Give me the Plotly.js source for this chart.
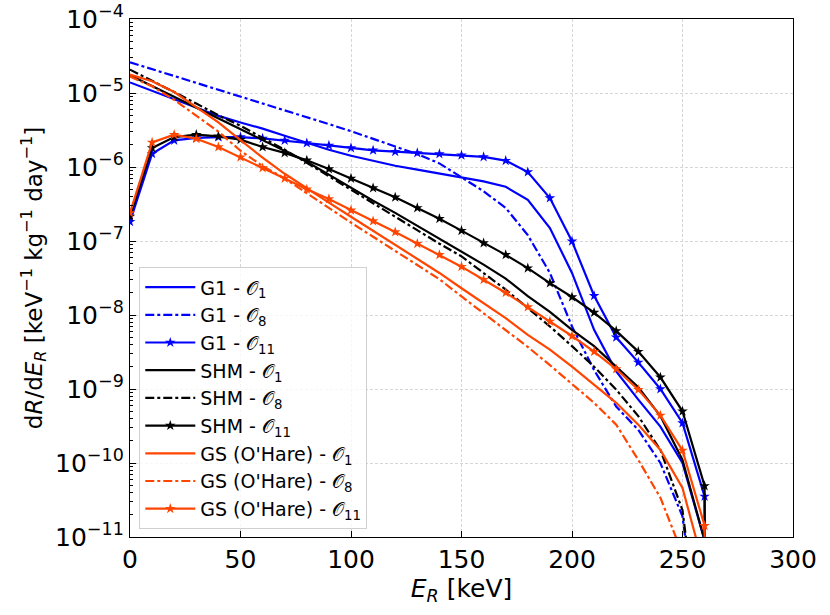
<!DOCTYPE html>
<html>
<head>
<meta charset="utf-8">
<script src="https://cdn.plot.ly/plotly-3.0.1.min.js"></script>
<style>
  body { margin: 0; background: #fff; }
  #plot { width: 830px; height: 615px; }
</style>
</head>
<body>
<div id="plot"></div>
<script>
// recoil energy grid [keV]; last point is where every rate has dropped to ~0
const energy = [0, 10, 20, 30, 40, 50, 60, 70, 80, 90, 100, 110, 120, 130, 140,
    150, 160, 170, 180, 190, 200, 210, 220, 230, 240, 250, 260, 261];

// G1 halo
const g1O1 = [1.39e-5, 1.07e-5, 8.1e-6, 6.3e-6, 4.9e-6, 4.0e-6, 3.3e-6, 2.65e-6, 2.13e-6,
    1.71e-6, 1.42e-6, 1.22e-6, 1.04e-6, 9.2e-7, 8.1e-7, 7.2e-7, 6.4e-7, 5.4e-7, 3.6e-7,
    1.5e-7, 3.7e-8, 6.3e-9, 1.73e-9, 7.2e-10, 3.1e-10, 1.0e-10, 9e-12, 1e-20];
const g1O8 = [2.6e-5, 2.1e-5, 1.7e-5, 1.38e-5, 1.11e-5, 9.0e-6, 7.3e-6, 5.9e-6, 4.8e-6,
    3.8e-6, 3.05e-6, 2.4e-6, 1.9e-6, 1.49e-6, 1.12e-6, 7.3e-7, 4.7e-7, 2.8e-7, 1.2e-7,
    3.7e-8, 7.0e-9, 1.8e-9, 5.8e-10, 2.8e-10, 1.0e-10, 1.9e-11, 1e-13, 1e-20];
const g1O11 = [1.82e-7, 1.51e-6, 2.29e-6, 2.47e-6, 2.54e-6, 2.54e-6, 2.43e-6, 2.29e-6, 2.11e-6,
    1.96e-6, 1.81e-6, 1.68e-6, 1.61e-6, 1.55e-6, 1.50e-6, 1.44e-6, 1.37e-6, 1.22e-6, 8.55e-7,
    3.81e-7, 9.9e-8, 1.82e-8, 5.0e-9, 2.29e-9, 1.0e-9, 3.47e-10, 3.54e-11, 1e-20];

// standard halo model
const shmO1 = [1.74e-5, 1.24e-5, 8.9e-6, 6.4e-6, 4.5e-6, 3.2e-6, 2.3e-6, 1.66e-6, 1.18e-6,
    7.9e-7, 5.2e-7, 3.5e-7, 2.4e-7, 1.6e-7, 1.07e-7, 7.2e-8, 4.8e-8, 3.1e-8, 1.8e-8,
    1.1e-8, 6.3e-9, 3.8e-9, 2.0e-9, 1.06e-9, 4.3e-10, 1.1e-10, 9e-12, 1e-20];
const shmO8 = [2.07e-5, 1.47e-5, 1.03e-5, 7.2e-6, 5.0e-6, 3.6e-6, 2.5e-6, 1.71e-6, 1.14e-6,
    7.5e-7, 4.9e-7, 3.2e-7, 2.1e-7, 1.4e-7, 9.2e-8, 6.2e-8, 3.7e-8, 2.2e-8, 1.24e-8,
    7.0e-9, 3.8e-9, 2.0e-9, 9.8e-10, 4.3e-10, 1.5e-10, 2.3e-11, 1e-13, 1e-20];
const shmO11 = [2.15e-7, 1.81e-6, 2.54e-6, 2.73e-6, 2.6e-6, 2.34e-6, 1.86e-6, 1.55e-6, 1.23e-6,
    9.4e-7, 7.0e-7, 5.2e-7, 3.9e-7, 2.8e-7, 2.0e-7, 1.38e-7, 9.4e-8, 6.5e-8, 4.3e-8,
    2.7e-8, 1.75e-8, 1.08e-8, 6.1e-9, 3.2e-9, 1.44e-9, 5.0e-10, 4.9e-11, 1e-20];

// Gaia sausage (O'Hare)
const gsO1 = [1.77e-5, 1.44e-5, 1.03e-5, 6.5e-6, 4.0e-6, 2.3e-6, 1.34e-6, 8.1e-7, 5.1e-7,
    3.3e-7, 2.13e-7, 1.38e-7, 8.9e-8, 5.8e-8, 3.7e-8, 2.3e-8, 1.45e-8, 9.1e-9, 5.4e-9,
    3.4e-9, 2.0e-9, 1.14e-9, 6.5e-10, 3.3e-10, 1.5e-10, 4.6e-11, 3.6e-12, 1e-20];
const gsO8 = [1.67e-5, 1.23e-5, 8.1e-6, 5.0e-6, 3.0e-6, 1.66e-6, 1.03e-6, 7.0e-7, 4.4e-7,
    2.8e-7, 1.77e-7, 1.14e-7, 7.4e-8, 4.8e-8, 3.05e-8, 1.78e-8, 1.06e-8, 6.3e-9, 3.7e-9,
    2.1e-9, 1.18e-9, 6.5e-10, 3.3e-10, 1.1e-10, 3.4e-11, 5.9e-12, 1e-13, 1e-20];
const gsO11 = [2.4e-7, 2.15e-6, 2.73e-6, 2.41e-6, 1.86e-6, 1.36e-6, 9.7e-7, 7.0e-7, 5.0e-7,
    3.7e-7, 2.6e-7, 1.86e-7, 1.32e-7, 9.2e-8, 6.5e-8, 4.5e-8, 3.0e-8, 2.0e-8, 1.28e-8,
    8.2e-9, 5.2e-9, 3.2e-9, 1.86e-9, 9.8e-10, 4.4e-10, 1.48e-10, 1.42e-11, 1e-20];

const yTickVals = [1e-11, 1e-10, 1e-9, 1e-8, 1e-7, 1e-6, 1e-5, 1e-4];
const yTickText = ['10<sup>−11</sup>', '10<sup>−10</sup>', '10<sup>−9</sup>', '10<sup>−8</sup>',
    '10<sup>−7</sup>', '10<sup>−6</sup>', '10<sup>−5</sup>', '10<sup>−4</sup>'];

// minor ticks 2..9 in every decade
const yMinor = [];
for (let e = -11; e < -4; e++) {
    for (let m = 2; m <= 9; m++) yMinor.push(m * Math.pow(10, e));
}

const BLUE = '#0000ff';
const BLACK = '#000000';
const ORANGE = '#ff4500';
const OP = '𝒪';

function curve(y, name, color, dash, stars) {
    const t = {
        x: energy,
        y: y,
        name: name,
        type: 'scatter',
        mode: stars ? 'lines+markers' : 'lines',
        line: { color: color, width: 2.2, dash: dash },
    };
    if (stars) {
        t.marker = { symbol: 'star', size: 8, color: color };
    }
    return t;
}

const traces = [
    curve(g1O1, 'G1 - ' + OP + '<sub>1</sub>', BLUE, 'solid', false),
    curve(g1O8, 'G1 - ' + OP + '<sub>8</sub>', BLUE, 'dashdot', false),
    curve(g1O11, 'G1 - ' + OP + '<sub>11</sub>', BLUE, 'solid', true),
    curve(shmO1, 'SHM - ' + OP + '<sub>1</sub>', BLACK, 'solid', false),
    curve(shmO8, 'SHM - ' + OP + '<sub>8</sub>', BLACK, 'dashdot', false),
    curve(shmO11, 'SHM - ' + OP + '<sub>11</sub>', BLACK, 'solid', true),
    curve(gsO1, "GS (O'Hare) - " + OP + '<sub>1</sub>', ORANGE, 'solid', false),
    curve(gsO8, "GS (O'Hare) - " + OP + '<sub>8</sub>', ORANGE, 'dashdot', false),
    curve(gsO11, "GS (O'Hare) - " + OP + '<sub>11</sub>', ORANGE, 'solid', true),
];

const gridStyle = {
    showgrid: true,
    gridcolor: '#c4c4c4',
    griddash: '3px,2px',
    gridwidth: 0.7,
};

const layout = {
    width: 830,
    height: 615,
    margin: { l: 130, r: 37, t: 19, b: 78 },
    paper_bgcolor: '#ffffff',
    plot_bgcolor: '#ffffff',
    font: { family: '"DejaVu Sans", sans-serif', color: '#000', size: 22 },
    showlegend: true,
    legend: {
        x: 0.014,
        y: 0.015,
        xanchor: 'left',
        yanchor: 'bottom',
        bgcolor: 'rgba(255,255,255,0.8)',
        bordercolor: '#d0d0d0',
        borderwidth: 1,
        itemwidth: 50,
        font: { size: 19 },
    },
    xaxis: Object.assign({
        range: [0, 300],
        dtick: 50,
        ticks: 'inside',
        ticklen: 6,
        tickcolor: '#000',
        showline: true,
        linecolor: '#000',
        linewidth: 1.2,
        mirror: true,
        zeroline: false,
        tickfont: { size: 25 },
        title: { text: '<i>E<sub>R</sub></i> [keV]', font: { size: 25 }, standoff: 2 },
    }, gridStyle),
    yaxis: Object.assign({
        type: 'log',
        range: [-11, -4],
        tickvals: yTickVals,
        ticktext: yTickText,
        ticks: 'inside',
        ticklen: 6,
        tickcolor: '#000',
        minor: { tickmode: 'array', tickvals: yMinor, ticks: 'inside', ticklen: 3, tickcolor: '#000', showgrid: false },
        showline: true,
        linecolor: '#000',
        linewidth: 1.2,
        mirror: true,
        zeroline: false,
        tickfont: { size: 25 },
        title: {
            text: 'd<i>R</i>/d<i>E<sub>R</sub></i> [keV<sup>−1</sup> kg<sup>−1</sup> day<sup>−1</sup>]',
            font: { size: 23 },
            standoff: 6,
        },
    }, gridStyle),
};

Plotly.newPlot('plot', traces, layout, { staticPlot: true, displayModeBar: false });
</script>
</body>
</html>
